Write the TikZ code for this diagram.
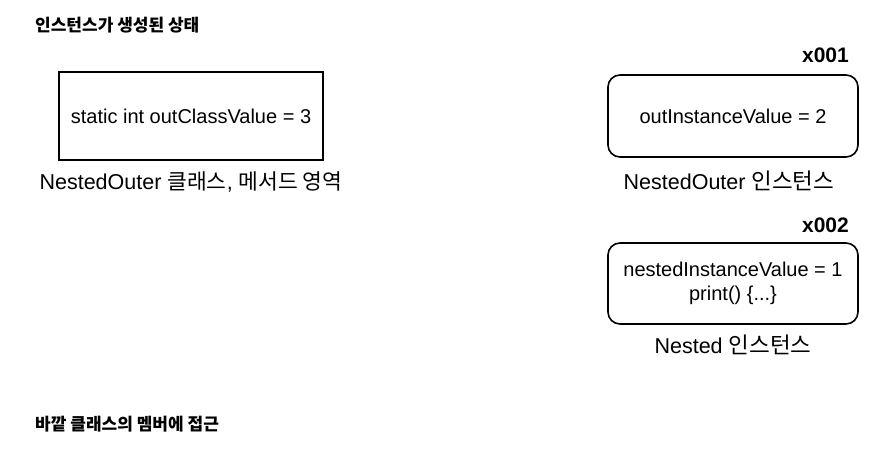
\documentclass[tikz,border=0pt]{standalone}
\usepackage{fontspec}
\setmainfont{Liberation Sans}
\newfontfamily\cjk{Noto Sans CJK KR}
\begin{document}
\begin{tikzpicture}[x=1pt,y=-1pt,
  title/.style={anchor=west,inner sep=0pt,font=\fontsize{17}{20}\selectfont\bfseries\cjk},
  boxtext/.style={font=\fontsize{20}{24}\selectfont,align=center},
  sqbox/.style={draw,line width=1.6pt,boxtext,inner sep=0pt},
  rbox/.style={draw,line width=1.6pt,rounded corners=12pt,boxtext,inner sep=0pt},
  caption/.style={inner sep=0pt,font=\fontsize{21.5}{24}\selectfont},
  addr/.style={anchor=east,inner sep=0pt,font=\fontsize{21}{24}\selectfont\bfseries}]
\useasboundingbox (0,0) rectangle (878,454);
\node[title] (t1) at (35,25) {인스턴스가 생성된 상태};
\node[sqbox,minimum width=264pt,minimum height=88pt] (cls) at (191,116) {static int outClassValue = 3};
\node[caption] (clsl) at (191,182) {NestedOuter {\cjk 클래스}, {\cjk 메서드 영역}};
\node[addr] (a1) at (849,55) {x001};
\node[rbox,minimum width=250pt,minimum height=82pt] (outer) at (733,116) {outInstanceValue = 2};
\node[caption] (outerl) at (729,181) {NestedOuter {\cjk\fontsize{22.5}{24}\selectfont 인스턴스}};
\node[addr] (a2) at (849,225) {x002};
\node[rbox,minimum width=250pt,minimum height=81pt] (nested) at (733,283.5) {nestedInstanceValue = 1\\print() \{...\}};
\node[caption] (nestedl) at (733,345) {Nested {\cjk\fontsize{22.5}{24}\selectfont 인스턴스}};
\node[title] (t2) at (35,424) {바깥 클래스의 멤버에 접근};
\end{tikzpicture}
\end{document}
